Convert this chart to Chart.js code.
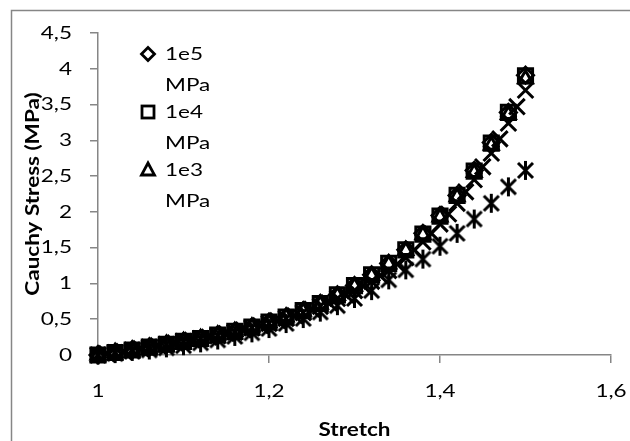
<!DOCTYPE html>
<html>
<head>
    <meta charset="utf-8">
    <title>Cauchy Stress x Stretch</title>
    <script src="https://cdn.jsdelivr.net/npm/chart.js"></script>
    <style>
        html, body { margin: 0; padding: 0; background: #fff; }
        #grafico { display: block; }
    </style>
</head>
<body>
    <canvas id="grafico" width="630" height="441"></canvas>

    <script>
        // Dados
        var stretchPasso2 = [1.00, 1.02, 1.04, 1.06, 1.08, 1.10, 1.12, 1.14, 1.16, 1.18, 1.20, 1.22, 1.24,
            1.26, 1.28, 1.30, 1.32, 1.34, 1.36, 1.38, 1.40, 1.42, 1.44, 1.46, 1.48, 1.50];
        var stretchPasso1 = [1.00, 1.01, 1.02, 1.03, 1.04, 1.05, 1.06, 1.07, 1.08, 1.09, 1.10, 1.11, 1.12,
            1.13, 1.14, 1.15, 1.16, 1.17, 1.18, 1.19, 1.20, 1.21, 1.22, 1.23, 1.24, 1.25, 1.26, 1.27, 1.28,
            1.29, 1.30, 1.31, 1.32, 1.33, 1.34, 1.35, 1.36, 1.37, 1.38, 1.39, 1.40, 1.41, 1.42, 1.43, 1.44,
            1.45, 1.46, 1.47, 1.48, 1.49, 1.50];

        var tensao1e5 = [0, 0.035, 0.07, 0.11, 0.15, 0.19, 0.23, 0.28, 0.33, 0.39, 0.46, 0.53, 0.62,
            0.72, 0.84, 0.97, 1.12, 1.28, 1.47, 1.70, 1.95, 2.23, 2.58, 2.97, 3.39, 3.91];
        var tensao1e4 = [0, 0.035, 0.07, 0.11, 0.15, 0.19, 0.23, 0.28, 0.33, 0.39, 0.46, 0.53, 0.62,
            0.72, 0.84, 0.97, 1.12, 1.28, 1.47, 1.69, 1.94, 2.23, 2.57, 2.96, 3.39, 3.90];
        var tensao1e3 = [0, 0.035, 0.07, 0.11, 0.15, 0.19, 0.23, 0.28, 0.33, 0.39, 0.45, 0.53, 0.61,
            0.71, 0.83, 0.96, 1.11, 1.27, 1.46, 1.68, 1.93, 2.21, 2.55, 2.93, 3.36, 3.86];
        var tensaoSerie4 = [0, 0.02, 0.035, 0.05, 0.07, 0.09, 0.11, 0.13, 0.15, 0.17, 0.19, 0.21, 0.23,
            0.25, 0.27, 0.30, 0.32, 0.35, 0.38, 0.41, 0.44, 0.48, 0.51, 0.55, 0.59, 0.64, 0.68, 0.73, 0.79,
            0.84, 0.90, 0.97, 1.03, 1.11, 1.18, 1.27, 1.36, 1.47, 1.58, 1.70, 1.83, 1.97, 2.12, 2.28, 2.45,
            2.63, 2.82, 3.02, 3.24, 3.47, 3.70];
        var tensaoSerie5 = [0, 0.02, 0.05, 0.07, 0.10, 0.13, 0.17, 0.21, 0.26, 0.31, 0.37, 0.44, 0.51,
            0.60, 0.69, 0.79, 0.90, 1.05, 1.19, 1.34, 1.52, 1.70, 1.90, 2.12, 2.35, 2.58];

        var nomesLegenda = [["1e5", "MPa"], ["1e4", "MPa"], ["1e3", "MPa"]];
        var tituloX = "Stretch";
        var tituloY = "Cauchy Stress (MPa)";

        var CINZA = "#868686";
        var SX = 1.25; // texto do original é mais largo
        var FONTE = "18px Lato";
        var FONTE_B = "bold 18px Lato";

        function pontos(xs, ys) {
            return xs.map(function (x, i) { return { x: x, y: ys[i] }; });
        }

        function virgula(v) {
            return String(Math.round(v * 10) / 10).replace(".", ",");
        }

        // asterisco (X com traço vertical), como o marcador do Excel
        var asterisco = document.createElement("canvas");
        asterisco.width = 21;
        asterisco.height = 21;
        (function () {
            var c = asterisco.getContext("2d");
            c.strokeStyle = "#000";
            c.lineWidth = 3;
            c.beginPath();
            c.moveTo(3, 3); c.lineTo(18, 18);
            c.moveTo(18, 3); c.lineTo(3, 18);
            c.moveTo(10.5, 1); c.lineTo(10.5, 20);
            c.stroke();
        })();

        function texto(ctx, s, x, y, align, font, rot) {
            ctx.save();
            ctx.translate(x, y);
            if (rot) ctx.rotate(rot);
            ctx.scale(SX, 1);
            ctx.font = font;
            ctx.fillStyle = "#000";
            ctx.textAlign = align;
            ctx.textBaseline = "middle";
            ctx.fillText(s, 0, 0);
            ctx.restore();
        }

        var textos = {
            id: "textos",
            afterDraw: function (chart) {
                var ctx = chart.ctx;
                var sx = chart.scales.x, sy = chart.scales.y;

                // moldura do gráfico
                ctx.save();
                ctx.strokeStyle = CINZA;
                ctx.lineWidth = 1.5;
                ctx.strokeRect(11.5, 10.5, 700, 500);
                ctx.restore();

                sy.ticks.forEach(function (t) {
                    texto(ctx, virgula(t.value), 72, sy.getPixelForValue(t.value), "right", FONTE);
                });
                sx.ticks.forEach(function (t) {
                    texto(ctx, virgula(t.value), sx.getPixelForValue(t.value), 391, "center", FONTE);
                });

                texto(ctx, tituloX, (sx.left + sx.right) / 2, 430, "center", FONTE_B);
                texto(ctx, tituloY, 33, (sy.top + sy.bottom) / 2, "center", FONTE_B, -Math.PI / 2);

                // legenda (só as três primeiras séries aparecem)
                var lx = 148, ly = [54, 112, 170];
                ctx.save();
                ctx.strokeStyle = "#000";
                ctx.lineWidth = 2.8;
                ctx.lineJoin = "miter";
                // losango
                ctx.beginPath();
                ctx.moveTo(lx, ly[0] - 6.5); ctx.lineTo(lx + 6.5, ly[0]);
                ctx.lineTo(lx, ly[0] + 6.5); ctx.lineTo(lx - 6.5, ly[0]); ctx.closePath();
                ctx.stroke();
                // quadrado
                ctx.strokeRect(lx - 6, ly[1] - 6, 12, 12);
                // triângulo
                ctx.beginPath();
                ctx.moveTo(lx, ly[2] - 7); ctx.lineTo(lx + 6.5, ly[2] + 5);
                ctx.lineTo(lx - 6.5, ly[2] + 5); ctx.closePath();
                ctx.stroke();
                ctx.restore();

                nomesLegenda.forEach(function (n, i) {
                    texto(ctx, n[0], 165, ly[i], "left", FONTE);
                    texto(ctx, n[1], 165, ly[i] + 31, "left", FONTE);
                });
            }
        };

        function serie(nome, xs, ys, estilo, raio, ordem) {
            return {
                label: nome,
                data: pontos(xs, ys),
                showLine: false,
                pointStyle: estilo,
                pointRadius: raio,
                pointHoverRadius: raio,
                pointBorderWidth: 3,
                borderColor: "#000",
                backgroundColor: "rgba(0,0,0,0)",
                clip: false,
                order: ordem
            };
        }

        var ctx = document.getElementById("grafico").getContext("2d");
        var grafico = new Chart(ctx, {
            type: "scatter",
            data: {
                datasets: [
                    serie("1e5 MPa", stretchPasso2, tensao1e5, "rectRot", 8, 5),
                    serie("1e4 MPa", stretchPasso2, tensao1e4, "rect", 10, 4),
                    serie("1e3 MPa", stretchPasso2, tensao1e3, "triangle", 8, 3),
                    serie("Series4", stretchPasso1, tensaoSerie4, "crossRot", 11, 2),
                    serie("Series5", stretchPasso2, tensaoSerie5, asterisco, 10, 1)
                ]
            },
            options: {
                responsive: false,
                animation: false,
                devicePixelRatio: 1,
                layout: { padding: { left: 0, top: 33, right: 19, bottom: 0 } },
                plugins: {
                    legend: { display: false },
                    tooltip: { enabled: false }
                },
                scales: {
                    x: {
                        type: "linear",
                        min: 1, max: 1.6,
                        ticks: { stepSize: 0.2, display: false },
                        grid: { drawOnChartArea: false, drawTicks: true, tickLength: 8, color: CINZA, lineWidth: 1.5 },
                        border: { color: CINZA, width: 1.5 },
                        afterFit: function (s) { s.height = 441 - 355; }
                    },
                    y: {
                        type: "linear",
                        min: 0, max: 4.5,
                        ticks: { stepSize: 0.5, display: false },
                        grid: { drawOnChartArea: false, drawTicks: true, tickLength: 8, color: CINZA, lineWidth: 1.5 },
                        border: { color: CINZA, width: 1.5 },
                        afterFit: function (s) { s.width = 98; }
                    }
                }
            },
            plugins: [textos]
        });
    </script>
</body>
</html>
